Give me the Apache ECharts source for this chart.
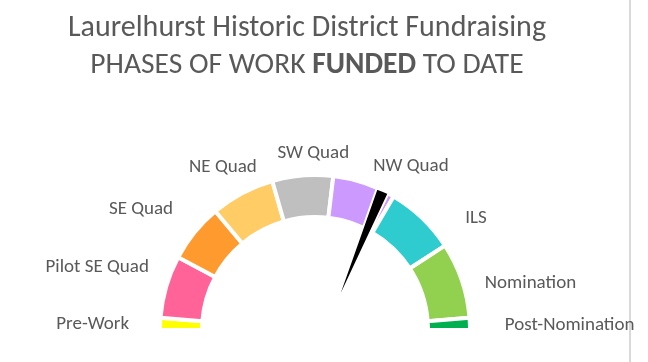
<!DOCTYPE html>
<html>
<head>
<meta charset="utf-8">
<script src="https://cdn.jsdelivr.net/npm/echarts@6/dist/echarts.min.js"></script>
<style>
html,body{margin:0;padding:0;background:#fff;}
#chart{width:648px;height:362px;}
</style>
</head>
<body>
<div id="chart"></div>
<script>
// ---- data ----
const phases = ['Pre-Work', 'Pilot SE Quad', 'SE Quad', 'NE Quad', 'SW Quad', 'NW Quad', 'ILS', 'Nomination', 'Post-Nomination'];
const phaseShares = [4.5, 23.5, 22, 24, 22.8, 23.7, 26.5, 28.5, 4.5];   // share of the half-dial (sums to 180)
const needleShare = [5.6];          // width of the needle wedge
const needleDirection = [70.5];     // start angle of the needle wedge

// ---- styles ----
const phaseColors = ['#FFFF00', '#FF6397', '#FF9A2E', '#FFCC66', '#BFBFBF', '#CC99FF', '#2ECBCF', '#92D050', '#00B050'];
const labelNudge = [[-2, 1], [11, -14.5], [3.5, -12], [34, -10], [59, -4], [-8, 0.5], [19.5, 13.5], [-5, 8.5], [6, 2.5]];
const textColor = '#595959';
const fontFam = "Carlito, Calibri, Lato, sans-serif";

const dialTotal = phaseShares.reduce((a, b) => a + b, 0);
const dialData = phases.map((name, i) => ({
  name: name,
  value: phaseShares[i],
  itemStyle: { color: phaseColors[i] }
}));
dialData.push({
  name: '',
  value: dialTotal,
  itemStyle: { color: 'rgba(0,0,0,0)', borderWidth: 0 },
  label: { show: false }
});

const needleData = [
  { name: 'needle', value: needleShare[0], itemStyle: { color: '#000', borderColor: '#fff', borderWidth: 2 } },
  { name: 'rest', value: 360 - needleShare[0], itemStyle: { color: 'rgba(0,0,0,0)', borderWidth: 0 } }
];

const chart = echarts.init(document.getElementById('chart'), null, { renderer: 'canvas' });
chart.setOption({
  backgroundColor: '#fff',
  animation: false,
  title: {
    text: 'Laurelhurst Historic District Fundraising\n{n|PHASES OF WORK }{b|FUNDED}{n| TO DATE}',
    left: 307,
    top: 10,
    padding: 0,
    textAlign: 'center',
    textStyle: {
      fontFamily: fontFam,
      fontSize: 30,
      fontWeight: 'normal',
      color: textColor,
      lineHeight: 37,
      rich: {
        n: { fontFamily: fontFam, fontSize: 29.5, color: textColor, lineHeight: 37 },
        b: { fontFamily: fontFam, fontSize: 29.5, color: textColor, fontWeight: 'bold', lineHeight: 37 }
      }
    }
  },
  graphic: [{
    type: 'rect',
    right: 17,
    top: 0,
    shape: { width: 2, height: 362 },
    style: { fill: '#D9D9D9' },
    silent: true
  }],
  series: [
    {
      type: 'pie',
      silent: true,
      center: [315, 330],
      radius: [113, 155],
      startAngle: 180,
      clockwise: true,
      avoidLabelOverlap: false,
      itemStyle: { borderColor: '#fff', borderWidth: 4 },
      label: {
        show: true,
        position: 'outside',
        fontFamily: fontFam,
        fontSize: 19,
        color: textColor
      },
      labelLine: { show: false, length: 18, length2: 6 },
      labelLayout: function (p) {
        const n = labelNudge[p.dataIndex];
        return n ? { dx: n[0], dy: n[1] } : {};
      },
      data: dialData
    },
    {
      type: 'pie',
      silent: true,
      center: [333, 312],
      radius: [0, 131],
      startAngle: needleDirection[0],
      clockwise: true,
      label: { show: false },
      labelLine: { show: false },
      data: needleData
    }
  ]
});
</script>
</body>
</html>
